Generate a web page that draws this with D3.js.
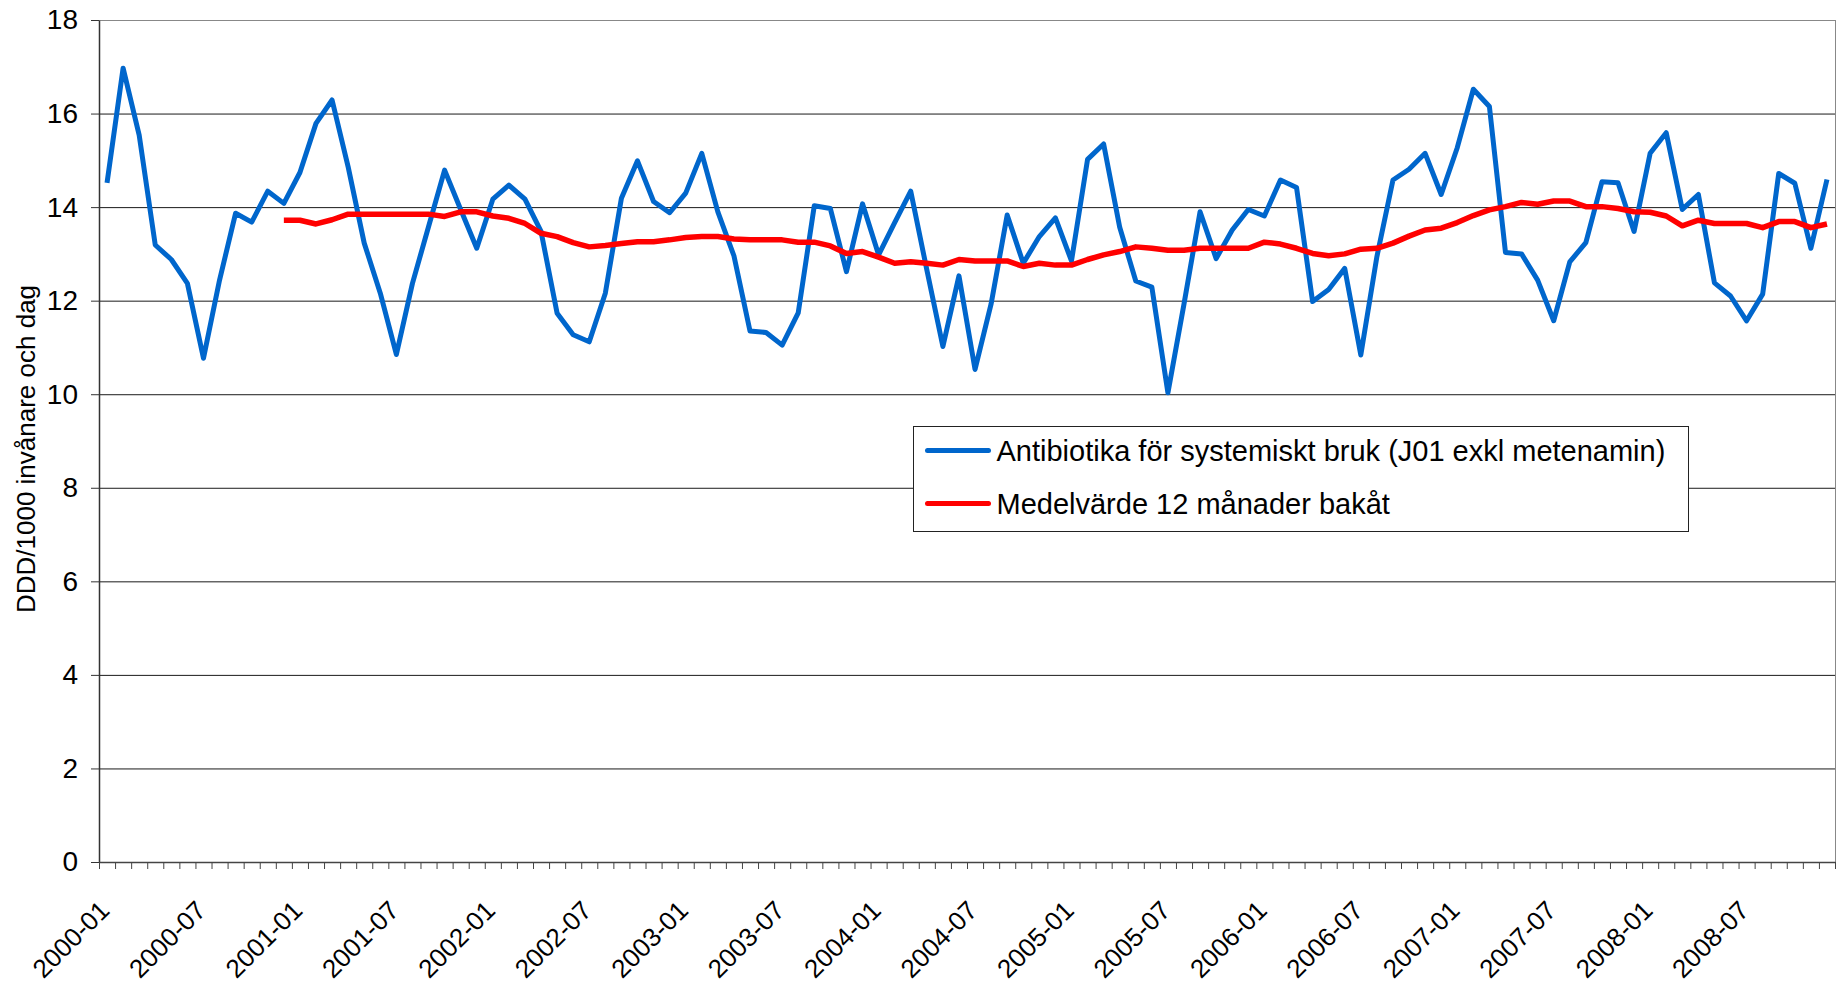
<!DOCTYPE html>
<html>
<head>
<meta charset="utf-8">
<script src="https://d3js.org/d3.v7.min.js"></script>
<style>
  body { margin: 0; background: #fff; }
  svg { display: block; font-family: "Liberation Sans", Arial, sans-serif; }
</style>
</head>
<body>
<svg width="1842" height="986"></svg>
<script>

// monthly values, 2000-01 .. 2008-12
var antibiotika = [
  14.52, 16.97, 15.54, 13.19, 12.88, 12.37, 10.77, 12.44, 13.87, 13.68, 14.34, 14.08, // 2000
  14.74, 15.79, 16.29, 14.86, 13.23, 12.16, 10.85, 12.37, 13.58, 14.79, 13.95, 13.12, // 2001
  14.17, 14.47, 14.17, 13.48, 11.73, 11.27, 11.12, 12.16, 14.19, 14.99, 14.12, 13.88, // 2002
  14.30, 15.15, 13.90, 12.96, 11.35, 11.32, 11.05, 11.74, 14.03, 13.97, 12.62, 14.07, // 2003
  12.98, 13.67, 14.34, 12.66, 11.02, 12.53, 10.53, 11.93, 13.83, 12.80, 13.37, 13.77, // 2004
  12.85, 15.02, 15.35, 13.57, 12.42, 12.29, 10.03, 11.93, 13.90, 12.90, 13.51, 13.95, // 2005
  13.81, 14.58, 14.42, 11.98, 12.24, 12.69, 10.84, 12.94, 14.58, 14.81, 15.15, 14.27, // 2006
  15.27, 16.52, 16.15, 13.03, 13.00, 12.44, 11.57, 12.83, 13.24, 14.54, 14.52, 13.48, // 2007
  15.15, 15.59, 13.95, 14.27, 12.38, 12.10, 11.57, 12.14, 14.72, 14.51, 13.12, 14.59  // 2008
];

// 12 month trailing mean, first value at 2000-12
var medelStart = "2000-12";
var medelvarde = [
  13.72,
  13.72, 13.64, 13.73, 13.85, 13.85, 13.85, 13.85, 13.85, 13.85, 13.80, 13.90, 13.90,
  13.81, 13.76, 13.65, 13.44, 13.37, 13.24, 13.15, 13.18, 13.22, 13.26, 13.26, 13.30,
  13.35, 13.37, 13.37, 13.32, 13.30, 13.30, 13.30, 13.25, 13.25, 13.17, 13.01, 13.05,
  12.93, 12.80, 12.83, 12.80, 12.76, 12.88, 12.85, 12.85, 12.85, 12.73, 12.80, 12.76,
  12.76, 12.88, 12.98, 13.05, 13.15, 13.12, 13.08, 13.08, 13.12, 13.12, 13.12, 13.12,
  13.25, 13.21, 13.12, 13.01, 12.96, 13.00, 13.10, 13.12, 13.23, 13.38, 13.51, 13.55,
  13.67, 13.82, 13.94, 14.01, 14.10, 14.06, 14.13, 14.13, 14.01, 14.01, 13.97, 13.90,
  13.89, 13.81, 13.60, 13.72, 13.65, 13.65, 13.65, 13.56, 13.69, 13.69, 13.56, 13.64
];

var months = d3.timeMonth.range(new Date(2000, 0, 1), new Date(2009, 0, 1))
  .map(d3.timeFormat("%Y-%m"));
var monthLabels = months.filter(function(d, i) { return i % 6 === 0; });
var yTicks = [0, 2, 4, 6, 8, 10, 12, 14, 16, 18];

var seriesNames = ["Antibiotika för systemiskt bruk (J01 exkl metenamin)", "Medelvärde 12 månader bakåt"];
var seriesColors = ["#0066cc", "#ff0000"];
var yTitle = "DDD/1000 invånare och dag";

var svg = d3.select("svg"),
    margin = {top: 20, right: 7, bottom: 124, left: 99},
    width = 1842 - margin.left - margin.right,
    height = 986 - margin.top - margin.bottom;

var g = svg.append("g").attr("transform", "translate(" + margin.left + "," + margin.top + ")");

var x = d3.scaleBand().domain(months).range([0, width]).padding(0);
var y = d3.scaleLinear().domain([0, 18]).range([height, 0]);
var xEdge = d3.scaleLinear().domain([0, months.length]).range([0, width]);

// grid lines
g.append("g")
    .attr("class", "grid")
    .call(d3.axisLeft(y).tickValues(yTicks).tickSize(-width).tickFormat(""))
    .call(function(s) {
      s.select(".domain").remove();
      s.selectAll("line").attr("stroke", "#1a1a1a").attr("stroke-width", 1);
      s.selectAll(".tick").filter(function(d) { return d === 18; }).select("line").attr("stroke", "#888");
    });

// right border of plot area
g.append("line")
    .attr("x1", width + 0.5).attr("x2", width + 0.5)
    .attr("y1", 0).attr("y2", height)
    .attr("stroke", "#888");

// y axis
g.append("g")
    .call(d3.axisLeft(y).tickValues(yTicks).tickSize(8).tickSizeOuter(0).tickPadding(13))
    .call(function(s) {
      s.select(".domain").attr("stroke", "#333").attr("stroke-width", 1.5);
      s.selectAll("line").attr("stroke", "#333");
      s.selectAll("text").attr("font-size", 28).attr("fill", "#000").attr("font-family", "Liberation Sans, Arial, sans-serif");
    });

// x axis: tick marks between months
g.append("g")
    .attr("transform", "translate(0," + height + ")")
    .call(d3.axisBottom(xEdge).tickValues(d3.range(0, months.length + 1)).tickSize(7).tickSizeOuter(0).tickFormat(""))
    .call(function(s) {
      s.select(".domain").attr("stroke", "#444").attr("stroke-width", 1.5);
      s.selectAll("line").attr("stroke", "#444");
    });

// x labels, rotated
g.append("g")
  .selectAll("text")
  .data(monthLabels)
  .join("text")
    .attr("transform", function(d) {
      return "translate(" + (x(d) + x.bandwidth() / 2 + 4) + "," + (height + 50) + ") rotate(-45)";
    })
    .attr("text-anchor", "end")
    .attr("font-size", 26)
    .attr("fill", "#000")
    .text(function(d) { return d; });

// y title
svg.append("text")
    .attr("transform", "translate(35," + (margin.top + height / 2 + 8) + ") rotate(-90)")
    .attr("text-anchor", "middle")
    .attr("font-size", 26)
    .attr("fill", "#000")
    .text(yTitle);

// lines
var line = d3.line()
    .x(function(d) { return x(d.m) + x.bandwidth() / 2; })
    .y(function(d) { return y(d.v); });

var startIdx = months.indexOf(medelStart);
var blueData = antibiotika.map(function(v, i) { return {m: months[i], v: v}; });
var redData = medelvarde.map(function(v, i) { return {m: months[startIdx + i], v: v}; });

g.append("path")
    .datum(blueData)
    .attr("fill", "none")
    .attr("stroke", seriesColors[0])
    .attr("stroke-width", 5)
    .attr("stroke-linejoin", "round")
    .attr("d", line);

g.append("path")
    .datum(redData)
    .attr("fill", "none")
    .attr("stroke", seriesColors[1])
    .attr("stroke-width", 5.5)
    .attr("stroke-linejoin", "round")
    .attr("d", line);

// legend
var legend = svg.append("g").attr("transform", "translate(913.5,426.5)");
legend.append("rect")
    .attr("width", 775).attr("height", 105)
    .attr("fill", "#fff")
    .attr("stroke", "#222")
    .attr("stroke-width", 1);

var item = legend.selectAll(".item")
  .data(seriesNames)
  .join("g")
    .attr("class", "item")
    .attr("transform", function(d, i) { return "translate(0," + (24 + i * 53) + ")"; });

item.append("line")
    .attr("x1", 14).attr("x2", 75)
    .attr("stroke", function(d, i) { return seriesColors[i]; })
    .attr("stroke-width", 5)
    .attr("stroke-linecap", "round");

item.append("text")
    .attr("x", 83)
    .attr("dy", "0.35em")
    .attr("font-size", 29)
    .attr("fill", "#000")
    .text(function(d) { return d; });

</script>
</body>
</html>
